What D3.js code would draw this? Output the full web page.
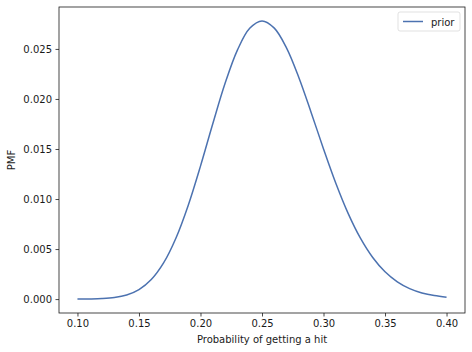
<!DOCTYPE html>
<html>
<head>
<meta charset="utf-8">
<script src="https://cdn.jsdelivr.net/npm/d3@7"></script>
<style>
  body { margin: 0; background: #fff; }
  svg text { font-family: "DejaVu Sans", sans-serif; fill: #1a1a1a; }
</style>
</head>
<body>
<div class="chart"></div>
<script>
// values, one every 0.01
let probs = [0.10, 0.11, 0.12, 0.13, 0.14, 0.15, 0.16, 0.17, 0.18, 0.19, 0.20,
             0.21, 0.22, 0.23, 0.24, 0.25, 0.26, 0.27, 0.28, 0.29, 0.30,
             0.31, 0.32, 0.33, 0.34, 0.35, 0.36, 0.37, 0.38, 0.39, 0.40];
let pmf = [0.000003, 0.000013, 0.000048, 0.000151, 0.000404, 0.000944, 0.00195, 0.00361, 0.00608, 0.00936, 0.01329,
           0.01752, 0.02156, 0.02488, 0.02706, 0.0278, 0.02708, 0.02508, 0.02212, 0.01863, 0.01501,
           0.01158, 0.00857, 0.00609, 0.00416, 0.00273, 0.00173, 0.00105, 0.000616, 0.000349, 0.00019];
let xTicks = [0.10, 0.15, 0.20, 0.25, 0.30, 0.35, 0.40];
let yTicks = [0.000, 0.005, 0.010, 0.015, 0.020, 0.025];
let seriesName = "prior";

let margin = { top: 7, right: 7, bottom: 39, left: 59 },
    width = 472 - margin.left - margin.right,
    height = 352 - margin.top - margin.bottom;

let data = probs.map((p, i) => ({ p: p, v: pmf[i] }));

// matplotlib style 5% padding
let xPad = (0.40 - 0.10) * 0.05;
let yMax = d3.max(pmf), yPad = yMax * 0.05;
let x = d3.scaleLinear().domain([0.10 - xPad, 0.40 + xPad]).range([0, width]);
let y = d3.scaleLinear().domain([-yPad, yMax + yPad]).range([height, 0]);

let svg = d3.select('.chart')
    .append('svg')
    .attr('width', 472)
    .attr('height', 352)
    .append('g')
    .attr('transform', 'translate(' + margin.left + ',' + margin.top + ')');

// the curve
let line = d3.line()
    .x(d => x(d.p))
    .y(d => y(d.v))
    .curve(d3.curveCatmullRom);

svg.append('path')
    .datum(data)
    .attr('fill', 'none')
    .attr('stroke', '#4c72b0')
    .attr('stroke-width', 1.5)
    .attr('d', line);

// axes
let xAxis = d3.axisBottom(x).tickValues(xTicks).tickFormat(d3.format('.2f')).tickSize(3.5).tickPadding(3.5);
let yAxis = d3.axisLeft(y).tickValues(yTicks).tickFormat(d3.format('.3f')).tickSize(3.5).tickPadding(3.5);

let gx = svg.append('g')
    .attr('transform', 'translate(0,' + height + ')')
    .call(xAxis);
let gy = svg.append('g').call(yAxis);

[gx, gy].forEach(g => {
    g.select('.domain').remove();
    g.selectAll('line').attr('stroke', '#1a1a1a').attr('stroke-width', 0.8);
    g.selectAll('text').attr('font-size', 10).style('fill', '#1a1a1a');
});

// frame
svg.append('rect')
    .attr('width', width)
    .attr('height', height)
    .attr('fill', 'none')
    .attr('stroke', '#1a1a1a')
    .attr('stroke-width', 0.8);

// axis labels
svg.append('text')
    .attr('text-anchor', 'middle')
    .attr('font-size', 10)
    .attr('x', width / 2)
    .attr('y', height + 30)
    .text('Probability of getting a hit');

svg.append('text')
    .attr('text-anchor', 'middle')
    .attr('font-size', 10)
    .attr('transform', 'translate(' + (-44) + ',' + (height / 2) + ')rotate(-90)')
    .text('PMF');

// legend
let legend = svg.append('g').attr('transform', 'translate(' + (width - 67) + ',5)');
legend.append('rect')
    .attr('width', 62)
    .attr('height', 19)
    .attr('rx', 2)
    .attr('fill', '#fff')
    .attr('stroke', '#d9d9d9')
    .attr('stroke-width', 0.8);
legend.append('line')
    .attr('x1', 5).attr('x2', 25)
    .attr('y1', 9.5).attr('y2', 9.5)
    .attr('stroke', '#4c72b0')
    .attr('stroke-width', 1.5);
legend.append('text')
    .attr('x', 33)
    .attr('y', 13.5)
    .attr('font-size', 10)
    .text(seriesName);
</script>
</body>
</html>
